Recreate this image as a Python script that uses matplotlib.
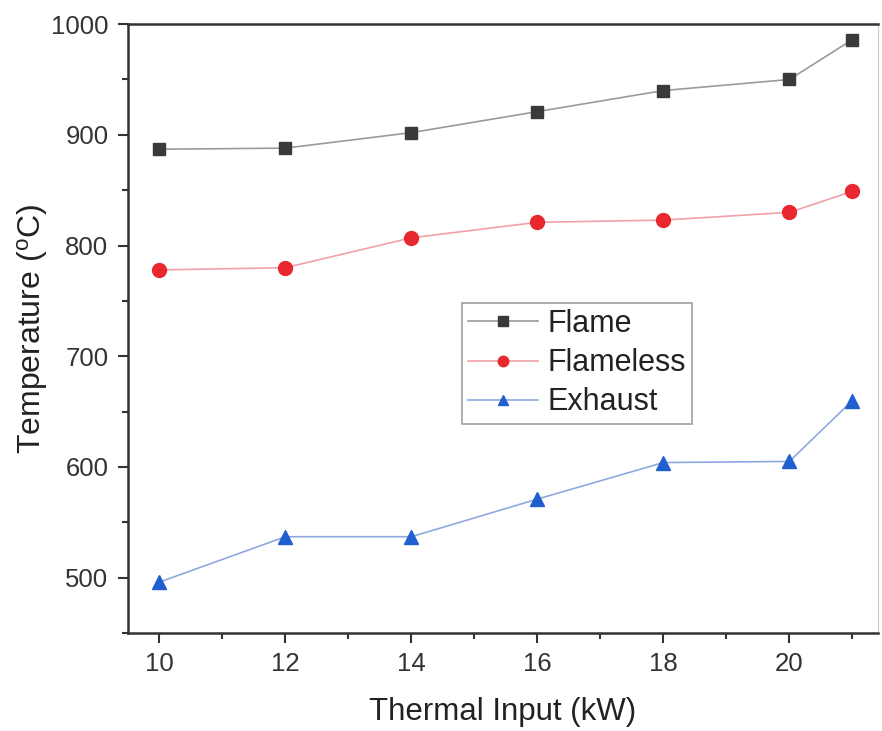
import matplotlib
matplotlib.use("Agg")
import matplotlib.pyplot as plt
from matplotlib.ticker import MultipleLocator

plt.rcParams['font.family'] = ['Liberation Sans', 'DejaVu Sans']
plt.rcParams['mathtext.default'] = 'regular'

# data
thermal_input = [10, 12, 14, 16, 18, 20, 21]
flame = [887, 888, 902, 921, 940, 950, 986]
flameless = [778, 780, 807, 821, 823, 830, 849]
exhaust = [496, 537, 537, 571, 604, 605, 660]

fig = plt.figure(figsize=(8.82, 7.31), dpi=100)
ax = fig.add_axes([0.145, 0.134, 0.85, 0.833])

ax.plot(thermal_input, flame, color='#9a9a9a', lw=1.2, marker='s', ms=9,
        mfc='#3a3a3a', mec='#3a3a3a', label='Flame')
ax.plot(thermal_input, flameless, color='#f0a0a8', lw=1.2, marker='o', ms=10,
        mfc='#e8282e', mec='#e8282e', label='Flameless')
ax.plot(thermal_input, exhaust, color='#90a8e0', lw=1.2, marker='^', ms=10,
        mfc='#1f5fcf', mec='#1f5fcf', label='Exhaust')

ax.set_xlim(9.5, 21.4)
ax.set_ylim(450, 1000)
ax.xaxis.set_major_locator(MultipleLocator(2))
ax.xaxis.set_minor_locator(MultipleLocator(1))
ax.yaxis.set_major_locator(MultipleLocator(100))
ax.yaxis.set_minor_locator(MultipleLocator(50))

ax.tick_params(which='major', direction='out', length=7, width=1.5,
               labelsize=18.5, colors='#333333', pad=7)
ax.tick_params(which='minor', direction='out', length=4, width=1.5,
               colors='#333333')

for s in ['left', 'bottom', 'top']:
    ax.spines[s].set_linewidth(1.8)
    ax.spines[s].set_color('#333333')
ax.spines['right'].set_linewidth(0.8)
ax.spines['right'].set_color('#cccccc')

ax.set_xlabel('Thermal Input (kW)', fontsize=22.5, color='#222222', labelpad=15)
ax.set_ylabel('Temperature ($^{o}$C)', fontsize=23, color='#222222', labelpad=1)

leg = ax.legend(loc='upper left', bbox_to_anchor=(0.445, 0.542), fontsize=22,
                frameon=True, fancybox=False, handlelength=2.3,
                markerscale=0.75, borderpad=0.2, labelspacing=0.3,
                handletextpad=0.3, borderaxespad=0)
leg.get_frame().set_edgecolor('#888888')
leg.get_frame().set_linewidth(1.2)
for t in leg.get_texts():
    t.set_color('#222222')

fig.savefig('out.png', dpi=100)
